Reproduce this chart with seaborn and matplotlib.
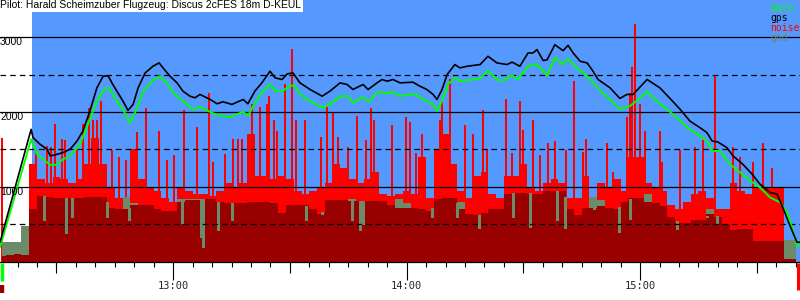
import numpy as np
import matplotlib
matplotlib.use("Agg")
import matplotlib.pyplot as plt
from matplotlib.ticker import FixedLocator, FuncFormatter
from matplotlib.transforms import blended_transform_factory
import seaborn as sns

sns.set_style("white")
plt.rcParams['font.family'] = ['Liberation Sans', 'DejaVu Sans']

TITLE = "Pilot: Harald Scheimzuber Flugzeug: Discus 2cFES 18m D-KEUL"
# time in minutes after 12:00
release_t = 23.7
takeoff_t = 16.0
landing_t = 220.6

gps_t = [15.5, 23.5, 24.0, 25.8, 27.6, 28.4, 29.6, 31.7, 33.5, 35.3, 36.8, 38.6, 40.4, 42.0, 43.3, 44.5,
         45.8, 47.1, 48.4, 49.7, 51.0, 52.8, 54.8, 56.4, 57.4, 59.2, 61.0, 62.5, 64.3, 65.6, 66.9,
         69.5, 71.3, 72.8, 75.1, 78.0, 79.2, 81.0, 82.8, 84.9, 86.2, 88.0, 89.3, 90.8, 92.6, 95.2,
         98.3, 100.3, 102.9, 104.7, 106.2, 108.8, 110.1, 112.4, 113.7, 115.0, 116.5, 118.3,
         121.6, 123.4, 125.2, 126.8, 127.8, 129.1, 130.4, 132.4, 133.7, 135.5, 138.9, 140.9, 143.2,
         145.8, 147.1, 149.1, 151.2, 152.5, 153.5, 155.1, 156.1, 158.1, 160.2, 161.5, 162.8, 164.6,
         166.4, 167.9, 169.2,
         172.3, 174.8, 176.6, 178.2, 181.8, 185.1, 187.7, 190.3, 192.8, 195.4, 197.2, 198.5, 200.0,
         202.3, 203.9, 206.4, 208.8, 210.8, 213.4, 215.2, 216.5, 218.0, 220.3, 221.1]
gps_alt = [257, 1769, 1657, 1569, 1502, 1413, 1427, 1458, 1502, 1613, 1747, 2013, 2324, 2480, 2484, 2369,
           2258, 2147, 2022, 2102, 2324, 2524, 2613, 2658, 2591, 2480, 2391, 2280, 2213, 2191, 2236,
           2169, 2111, 2138, 2102, 2169, 2111, 2280, 2391, 2547, 2458, 2436, 2511, 2524, 2391, 2302,
           2213, 2280, 2391, 2369, 2302, 2369, 2302, 2391, 2436, 2413, 2436, 2391,
           2400, 2347, 2302, 2236, 2169, 2302, 2502, 2636, 2591, 2613, 2636, 2747, 2658,
           2636, 2669, 2613, 2791, 2791, 2836, 2689, 2700, 2902, 2822, 2893, 2791, 2680,
           2658, 2547, 2436,
           2324, 2182, 2236, 2236, 2436, 2324, 2182, 2036, 1880, 1791, 1724, 1613, 1600,
           1524, 1413, 1302, 1169, 1036, 924, 902, 747, 547, 258, 258]

baro_t = [15.5, 23.5, 25.0, 26.6, 28.4, 30.1, 31.7, 33.5, 36.1, 38.1, 40.4, 42.5, 43.8, 45.6, 47.1, 48.9,
          50.7, 52.3, 54.6, 56.4, 58.4, 60.0, 62.3, 65.1,
          66.9, 68.7, 71.3, 74.6, 78.0, 79.2, 81.0, 83.1, 84.9, 86.2, 88.0, 90.0, 91.3, 92.6, 95.2,
          98.3, 100.3, 102.9, 104.9, 106.2, 108.8, 110.3, 112.6, 115.0, 116.5, 118.3,
          122.2, 124.2, 126.8, 127.8, 129.1, 130.6, 132.4, 133.7, 138.9, 140.9, 143.2, 144.8, 147.1,
          148.6, 151.2, 153.5, 156.1, 158.1, 160.2, 161.5, 163.8, 166.4, 168.4,
          169.7, 172.3, 174.8, 177.4, 179.5, 181.8, 184.3, 186.9, 189.5, 192.1, 195.4, 197.2, 198.5,
          200.5, 203.1, 205.7, 208.3, 210.8, 213.4, 216.0, 217.8, 219.3, 220.3, 221.1]
baro_alt = [191, 1636, 1436, 1369, 1293, 1293, 1369, 1413, 1569, 1836, 2147, 2324, 2300, 2138, 2036, 1858,
            2050, 2280, 2413, 2480, 2391, 2258, 2156, 2036,
            2067, 2022, 1960, 1933, 2004, 1947, 2124, 2280, 2369, 2280, 2280, 2347, 2360, 2236, 2147,
            2058, 2102, 2213, 2213, 2124, 2200, 2138, 2271, 2250, 2271, 2213,
            2244, 2169, 2102, 2013, 2147, 2369, 2458, 2413, 2449, 2556, 2436, 2420, 2493,
            2436, 2613, 2640, 2493, 2724, 2640, 2716, 2591, 2480, 2369,
            2289, 2169, 2036, 2080, 2169, 2271, 2147, 2036, 1924, 1791, 1680, 1613, 1480,
            1480, 1302, 1191, 1080, 991, 858, 791, 658, 413, 213, 213]

# sampled every 2 minutes from 12:16 to 15:40
noise_t = list(range(16, 221, 2))
noise_base = [0, 0, 0, 0, 1300, 1100, 1050, 1130, 1100, 1050,
              1100, 1300, 1650, 1300, 1000, 850, 830, 1500, 1100, 1000,
              950, 850, 800, 1000, 950, 900, 900, 880, 950, 1050,
              1000, 1050, 1700, 1150, 1150, 1100, 1150, 1100, 950, 900,
              950, 1000, 1050, 1300, 1250, 1100, 1050, 1100, 1200, 900,
              870, 900, 950, 900, 1400, 850, 1500, 1700, 1300, 950,
              850, 1150, 1200, 900, 850, 1150, 1150, 1300, 1000, 950,
              1050, 1100, 1050, 850, 850, 1150, 800, 1050, 1000, 1100,
              950, 1400, 1400, 1050, 1000, 950, 750, 700, 800, 900,
              950, 850, 700, 700, 1050, 950, 900, 1000, 1000, 1000,
              980, 0, 0]
noise_low = [80, 90, 100, 90, 700, 880, 860, 850, 850, 850,
             855, 860, 860, 860, 720, 700, 700, 750, 750, 750,
             700, 680, 670, 800, 820, 820, 840, 830, 790, 785,
             785, 785, 795, 795, 795, 780, 650, 750, 750, 750,
             700, 630, 820, 820, 820, 815, 815, 815, 810, 810,
             760, 710, 720, 720, 700, 680, 840, 845, 845, 700,
             640, 620, 650, 700, 700, 910, 915, 915, 910, 910,
             950, 950, 950, 700, 620, 720, 720, 740, 720, 700,
             800, 846, 846, 800, 780, 740, 600, 520, 510, 550,
             550, 640, 600, 500, 420, 440, 430, 280, 277, 277,
             277, 40, 40]
gnd = [260, 260, 262, 470, 560, 600, 600, 600, 600, 600,
       600, 600, 600, 600, 600, 600, 860, 780, 600, 600,
       600, 600, 600, 830, 830, 830, 840, 800, 600, 600,
       600, 600, 600, 600, 600, 600, 600, 600, 600, 600,
       600, 600, 600, 600, 600, 840, 600, 600, 600, 600,
       600, 830, 780, 600, 600, 600, 600, 600, 600, 800,
       550, 550, 550, 600, 600, 600, 600, 600, 600, 600,
       950, 950, 600, 550, 550, 600, 860, 820, 600, 600,
       600, 600, 600, 910, 600, 450, 450, 450, 450, 450,
       450, 700, 250, 250, 250, 250, 250, 250, 250, 250,
       200, 287, 287]

spike_t = [16.0, 24.75, 27.6, 28.6, 29.6, 31.4, 32.2, 35.3, 36.8, 38.4, 39.4, 40.4, 41.5, 44.3, 46.1,
           47.9, 50.7, 53.0, 56.4, 58.4, 60.2, 62.8, 66.1, 69.2, 70.2, 73.3, 75.4, 76.7, 77.7, 80.3,
           82.3, 84.1, 84.6, 85.9, 86.7, 88.7, 90.5, 91.6, 93.9, 98.0, 99.5, 101.1, 102.4, 104.9,
           107.2, 109.6, 110.9, 111.6, 116.2, 119.8, 120.9, 122.4, 124.0, 128.6, 129.1, 131.2, 135.0,
           137.1, 139.6, 140.7, 145.5, 147.1, 149.1, 149.9, 152.5, 154.3, 156.3, 158.1, 161.0, 163.0,
           165.3, 166.1, 171.5, 173.0, 176.6, 177.4, 177.9, 178.7, 180.0, 181.3, 185.1, 185.6, 190.3,
           194.1, 196.2, 199.3, 203.9, 205.7, 209.0, 211.6, 213.9]
spike_alt = [1650, 1490, 1550, 1530, 1840, 1640, 1620, 1490, 1840, 2060, 1890, 1890, 2150, 1490, 1400,
             1360, 1730, 2060, 1750, 1360, 1420, 2030, 1800, 2250, 1330, 1440, 1640, 1640, 1640, 2110,
             2070, 2110, 2220, 1890, 1740, 2380, 2850, 1890, 1890, 1660, 2070, 2000, 1660, 1530,
             1950, 1620, 2060, 1900, 1830, 1940, 1870, 1450, 1710, 1890, 2150, 2440, 1830,
             1700, 2030, 1500, 2170, 1450, 2150, 1760, 1900, 1420, 1580, 1610, 1490, 2420,
             1460, 1640, 1580, 1200, 1930, 2250, 2600, 3180, 2110, 1750, 1750, 1330, 1490,
             1530, 1620, 2490, 1530, 1400, 1330, 1580, 1250]

dip_t = [26.8, 32.5, 34.0, 43.0, 48.7, 62.3, 67.2, 67.7, 71.5, 75.1, 94.1, 98.3, 106.0, 108.0, 108.8,
         126.5, 132.9, 138.6, 147.3, 151.7, 158.6, 160.7, 168.2, 174.6, 177.4, 189.5, 197.2, 199.8]
dip_alt = [550, 380, 590, 590, 560, 510, 330, 200, 420, 560, 560, 640, 553, 420, 500,
           600, 600, 450, 600, 460, 560, 450, 700, 390, 570, 430, 600, 520]

legend_names = ["baro", "gps", "noise", "gnd"]

SKY = "#5599ff"
RED = "#ff0000"
DARK = "#990000"
GND = "#6b8b6b"
GREEN = "#00ff00"

W, H = 800, 300
fig = plt.figure(figsize=(8, 3), dpi=100)
ax_bottom = 38.5
ax = fig.add_axes([0, ax_bottom / H, 1, (H - ax_bottom) / H])
x0, x1 = 15.5, 221.1
ax.set_xlim(x0, x1)
ax.set_ylim(0, 3500)
ax.set_facecolor("white")
ax.axvspan(release_t, x1, color=SKY, lw=0, zorder=0)

ax.fill_between(noise_t, noise_base, step="mid", color=RED, lw=0, zorder=1)
ax.vlines(spike_t, 0, spike_alt, color=RED, lw=1.3, zorder=1, antialiased=False)
ax.fill_between(noise_t, gnd, step="mid", color=GND, lw=0, zorder=2)
ax.fill_between(noise_t, noise_low, step="mid", color=DARK, lw=0, zorder=3)
dip_top = np.interp(dip_t, noise_t, noise_low)
ax.vlines(dip_t, dip_alt, dip_top, color=GND, lw=1.0, zorder=3.5, antialiased=False)

for v in (1000, 2000, 3000):
    ax.axhline(v, color="black", lw=0.9, zorder=4)
for v in (500, 1500, 2500):
    ax.axhline(v, color="black", lw=0.9, ls=(0, (4.5, 3.2)), zorder=4)

sns.lineplot(x=baro_t, y=baro_alt, ax=ax, color=GREEN, linewidth=1.4, sort=False,
             estimator=None, zorder=5)
sns.lineplot(x=gps_t, y=gps_alt, ax=ax, color="black", linewidth=1.2, sort=False,
             estimator=None, zorder=6)
ax.set_xlabel("")
ax.set_ylabel("")

for s in ("top", "left", "right"):
    ax.spines[s].set_visible(False)
ax.spines["bottom"].set_color("black")
ax.spines["bottom"].set_linewidth(0.9)
ax.spines["bottom"].set_zorder(7)

ax.set_yticks([])
ax.xaxis.set_major_locator(FixedLocator([60, 120, 180]))
ax.xaxis.set_minor_locator(FixedLocator(list(range(20, 221, 5))))
ax.xaxis.set_major_formatter(FuncFormatter(lambda t, p: f"{int(t // 60) + 12}:{int(t % 60):02d}"))
ax.tick_params(axis="x", which="both", bottom=True, top=False)
ax.tick_params(axis="x", which="major", direction="out", length=13, width=0.8, color="black",
               pad=1.0, labelsize=7.5)
ax.tick_params(axis="x", which="minor", direction="out", length=3.8, width=0.8, color="black")
for lab in ax.get_xticklabels():
    lab.set_fontfamily("DejaVu Sans Mono")

trans = blended_transform_factory(ax.transData, ax.transAxes)
axh = H - ax_bottom
ax.vlines([30, 90, 150, 210], 0, -11 / axh, transform=trans, color="black", lw=0.8, clip_on=False)
# takeoff / landing markers
ax.vlines([takeoff_t], -1 / axh, -19 / axh, transform=trans, color=GREEN, lw=2.5, clip_on=False)
ax.vlines([15.9], -23 / axh, -31 / axh, transform=trans, color=DARK, lw=3.2, clip_on=False)
ax.vlines([landing_t], -1 / axh, -28 / axh, transform=trans, color=RED, lw=2.2, clip_on=False)

ytrans = blended_transform_factory(ax.transAxes, ax.transData)
for v in (1000, 2000, 3000):
    ax.text(0.0, v, f"{v}", transform=ytrans, ha="left", va="top", fontsize=7.5,
            color="black", zorder=8)

fig.text(0.0, 1.0 - 0.5 / H, TITLE, ha="left", va="top", fontsize=7.5, color="black",
         bbox=dict(boxstyle="square,pad=0.15", fc="white", ec="none"))

leg_colors = [GREEN, "black", RED, GND]
for i, (name, c) in enumerate(zip(legend_names, leg_colors)):
    fig.text(770 / W, 1 - (10.7 + 10 * i) / H, name, ha="left", va="baseline",
             fontsize=7, color=c, family="DejaVu Sans Mono")

fig.savefig("out.png", dpi=100)
